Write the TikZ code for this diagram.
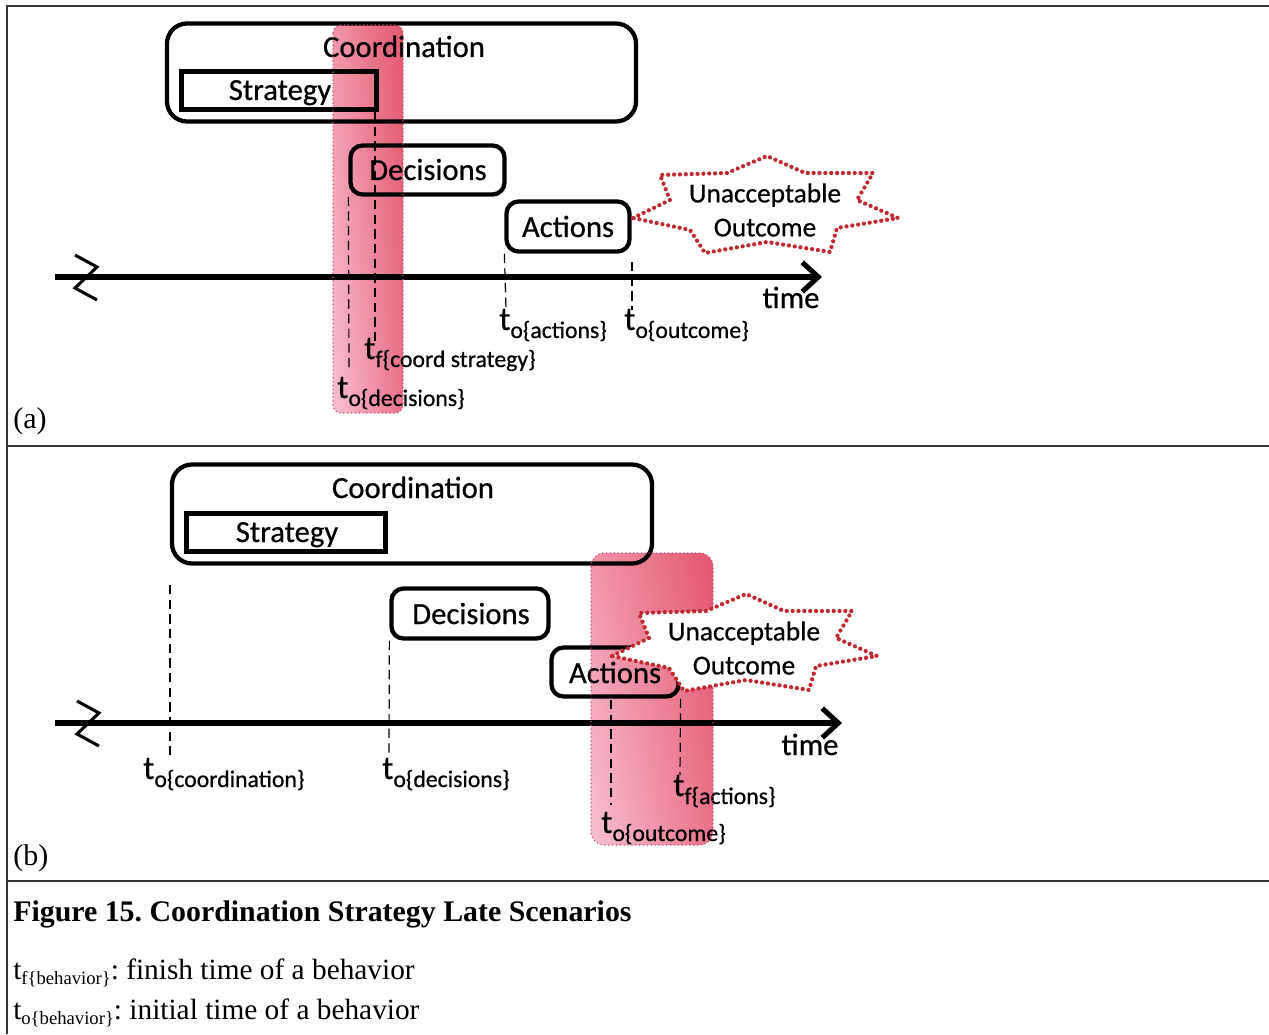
\documentclass[tikz,border=0pt]{standalone}
\usepackage{fontspec}
\setmainfont{Liberation Serif}
\newfontfamily\calibri[RawFeature={embolden=0.6}]{Carlito}
\usetikzlibrary{arrows.meta}
\frenchspacing

\definecolor{starred}{HTML}{C2282F}
\definecolor{bandlight}{HTML}{F8C2D2}
\definecolor{bandmid}{HTML}{EE8CA2}
\definecolor{banddark}{HTML}{E9728A}
\definecolor{bandtop}{HTML}{F8C4CE}
\definecolor{bandedge}{HTML}{D04A7C}
\definecolor{framegray}{HTML}{333333}

% time label: large t with a lowered subscript
\newcommand{\tlab}[2]{{\fontsize{25}{25}\selectfont t}\raisebox{-6pt}{\fontsize{17.8}{17.8}\selectfont #1\{#2\}}}

\begin{document}
\begin{tikzpicture}[x=0.75pt,y=-0.75pt,
  frameline/.style={draw=framegray, line width=1.5pt},
  rbox/.style={draw, line width=3.2pt, rounded corners=9pt, inner sep=0pt},
  bigbox/.style={draw, line width=3.2pt, rounded corners=15pt, inner sep=0pt},
  sbox/.style={draw, line width=3.2pt, inner sep=0pt},
  lbl/.style={font=\calibri\fontsize{23}{26}\selectfont, inner sep=0pt, anchor=base},
  starlbl/.style={font=\calibri\fontsize{20.5}{25.5}\selectfont, inner sep=0pt, align=center},
  tlbl/.style={font=\calibri, inner sep=0pt, anchor=base west},
  guide/.style={line width=0.9pt, dash pattern=on 7pt off 4pt},
  timeaxis/.style={line width=3.8pt, -{Straight Barb[length=12pt,width=22pt]}},
  breakmark/.style={line width=2.3pt},
  starline/.style={draw=starred, fill=white, line width=3.2pt, line cap=round, dash pattern=on 0pt off 4.4pt},
  bandfill/.style={left color=bandlight, middle color=bandmid, right color=banddark},
  bandfade/.style={top color=bandtop, bottom color=white},
  bandline/.style={draw=bandedge, line width=0.9pt, dotted},
  capfont/.style={inner sep=0pt, anchor=base west}
]
\useasboundingbox (0,0) rectangle (1269,1034);

% ---------- frame ----------
\draw[frameline] (1269,6) -- (7,6) -- (7,1034);
\draw[frameline] (7,446) -- (1269,446);
\draw[frameline] (7,881) -- (1269,881);

% ========== panel (a) ==========
\node[bigbox, minimum width=469*0.75pt, minimum height=98*0.75pt] (coordA) at (401.5,72.5) {};
\node[lbl] (coordAt) at (404,57) {Coordination};
\node[sbox, minimum width=195*0.75pt, minimum height=38*0.75pt] (stratA) at (279,90.5) {};
\node[lbl] (stratAt) at (280,100) {Strategy};
\node[rbox, minimum width=154*0.75pt, minimum height=49*0.75pt] (decA) at (427.5,170) {};
\node[lbl] (decAt) at (428,180) {Decisions};
\node[rbox, minimum width=123*0.75pt, minimum height=50*0.75pt] (actA) at (568,226.5) {};
\node[lbl] (actAt) at (568,237) {Actions};

% unacceptable outcome burst
\begin{scope}[shift={(765,210)}]
  \draw[starline] (-132,8) -- (-95,-10) -- (-105,-35) -- (-38,-37) -- (2,-54) -- (40,-37)
    -- (108,-37) -- (92,-10) -- (133,8) -- (72,18) -- (65,42) -- (2,32) -- (-60,43) -- (-75,20) -- cycle;
  \node[starlbl] (outA) at (0,0) {Unacceptable\\Outcome};
\end{scope}

% time axis with break mark
\coordinate (axAstart) at (55,277);
\coordinate (axAend) at (822,277);
\draw[timeaxis] (axAstart) -- (axAend);
\draw[breakmark] (75,255) -- (97,267) -- (75,288) -- (97,300);
\node[lbl] (timeA) at (791,308) {time};

% guide lines
\coordinate (gA1) at (349,368);
\coordinate (gA2a) at (375,112);
\coordinate (gA2) at (375,345);
\coordinate (gA3) at (506,310);
\coordinate (gA4a) at (632,262);
\coordinate (gA4) at (632,310);
\draw[guide] (decA.south west) -- (gA1);
\draw[guide] (gA2a) -- (gA2);
\draw[guide] (actA.south west) -- (gA3);
\draw[guide] (gA4a) -- (gA4);

\node[tlbl] (tA1) at (337,398) {\tlab{o}{decisions}};
\node[tlbl] (tA2) at (364,359) {\tlab{f}{coord strategy}};
\node[tlbl] (tA3) at (499,330) {\tlab{o}{actions}};
\node[tlbl] (tA4) at (624,330) {\tlab{o}{outcome}};

% highlighted interval (multiplied over the drawing)
\begin{scope}[blend mode=multiply]
  \shade[bandfill, rounded corners=6pt] (333,25) rectangle (403,413);
  \shade[bandfade, rounded corners=6pt] (333,25) rectangle (403,413);
\end{scope}
\draw[bandline, rounded corners=6pt] (333,25) rectangle (403,413);

\node[capfont, font=\fontsize{22.5}{26}\selectfont] (labA) at (13,428) {(a)};

% ========== panel (b) ==========
\node[bigbox, minimum width=480*0.75pt, minimum height=99*0.75pt] (coordB) at (412,514) {};
\node[lbl] (coordBt) at (413,498) {Coordination};
\node[sbox, minimum width=199*0.75pt, minimum height=38*0.75pt] (stratB) at (286,532.5) {};
\node[lbl] (stratBt) at (287,542) {Strategy};
\node[rbox, minimum width=157*0.75pt, minimum height=50*0.75pt] (decB) at (470,613.5) {};
\node[lbl] (decBt) at (471,624) {Decisions};
\node[rbox, minimum width=127*0.75pt, minimum height=49*0.75pt] (actB) at (615,672) {};
\node[lbl] (actBt) at (615,683) {Actions};

% time axis with break mark
\coordinate (axBstart) at (55,723);
\coordinate (axBend) at (842,723);
\draw[timeaxis] (axBstart) -- (axBend);
\draw[breakmark] (77,701) -- (99,713) -- (77,734) -- (99,746);
\node[lbl] (timeB) at (810,755) {time};

% guide lines
\coordinate (gB1a) at (170,585);
\coordinate (gB1) at (170,755);
\coordinate (gB2) at (389,755);
\coordinate (gB3a) at (611,700);
\coordinate (gB3) at (611,805);
\coordinate (gB4) at (680,775);
\draw[guide] (gB1a) -- (gB1);
\draw[guide] (decB.south west) -- (gB2);
\draw[guide] (gB3a) -- (gB3);
\draw[guide] (actB.south east) -- (gB4);

\node[tlbl] (tB1) at (143,779) {\tlab{o}{coordination}};
\node[tlbl] (tB2) at (382,779) {\tlab{o}{decisions}};
\node[tlbl] (tB3) at (673,796) {\tlab{f}{actions}};
\node[tlbl] (tB4) at (601,833) {\tlab{o}{outcome}};

% highlighted interval (multiplied over the drawing)
\begin{scope}[blend mode=multiply]
  \shade[bandfill, rounded corners=10pt] (591,553) rectangle (713,845);
  \shade[bandfade, rounded corners=10pt] (591,553) rectangle (713,845);
\end{scope}
\draw[bandline, rounded corners=10pt] (591,553) rectangle (713,845);

% unacceptable outcome burst (drawn over the interval)
\begin{scope}[shift={(744,648)}]
  \draw[starline] (-132,8) -- (-95,-10) -- (-105,-35) -- (-38,-37) -- (2,-54) -- (40,-37)
    -- (108,-37) -- (92,-10) -- (133,8) -- (72,18) -- (65,42) -- (2,32) -- (-60,43) -- (-75,20) -- cycle;
  \node[starlbl] (outB) at (0,0) {Unacceptable\\Outcome};
\end{scope}

\node[capfont, font=\fontsize{22.5}{26}\selectfont] (labB) at (13,865) {(b)};

% ========== caption ==========
\node[capfont, font=\bfseries\fontsize{22.4}{26}\selectfont] (cap) at (13,921) {Figure 15. Coordination Strategy Late Scenarios};
\node[capfont, font=\fontsize{22}{26}\selectfont] (defF) at (13,979) {t\raisebox{-4pt}{\fontsize{14}{14}\selectfont f\{behavior\}}: finish time of a behavior};
\node[capfont, font=\fontsize{22}{26}\selectfont] (defO) at (13,1019) {t\raisebox{-4pt}{\fontsize{14}{14}\selectfont o\{behavior\}}: initial time of a behavior};
\end{tikzpicture}
\end{document}
